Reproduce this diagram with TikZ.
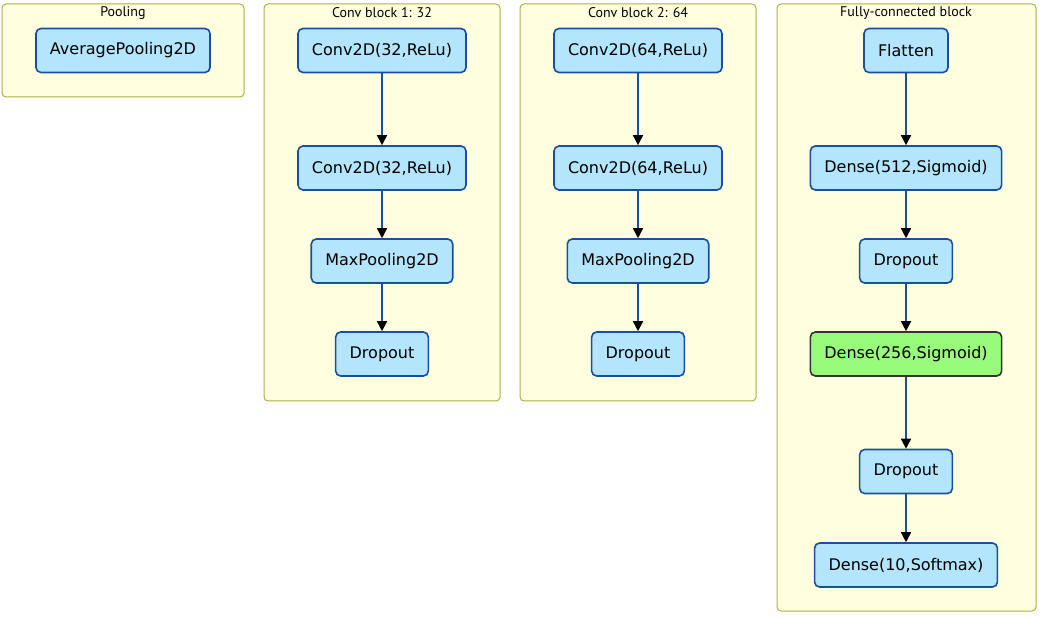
\documentclass[tikz,border=0pt]{standalone}
\usepackage{fontspec}
\setsansfont{DejaVu Sans}
\newfontfamily\titlefont{PT Sans}
\usetikzlibrary{arrows.meta}
\definecolor{layerblue}{RGB}{179,229,252}
\definecolor{layerline}{RGB}{28,78,158}
\definecolor{densegreen}{RGB}{152,251,124}
\definecolor{blockfill}{RGB}{255,255,224}
\definecolor{blockline}{RGB}{175,175,70}

\begin{document}
\begin{tikzpicture}[x=0.5pt,y=-0.5pt,block/.style={draw=blockline, fill=blockfill, rounded corners=2pt, line width=0.5pt},title/.style={font=\titlefont\fontsize{7}{8}\selectfont},layer/.style={draw=layerline, fill=layerblue, line width=0.8pt, rounded corners=2.5pt, minimum height=22pt, inner xsep=7pt, font=\sffamily\fontsize{8}{9.5}\selectfont},highlight/.style={layer, draw=black!80, fill=densegreen},flow/.style={draw=layerline, line width=0.8pt, -{Triangle[black, length=5pt, width=5pt]}}]
\useasboundingbox (0,0) rectangle (1042,619);
\draw[block] (2,4) rectangle (244,97);
\node[title] (tpool) at (123,13) {Pooling};
\node[layer] (pool) at (123,50.5) {AveragePooling2D};
\foreach \cx/\n/\k in {382/32/1,638/64/2} {\draw[block] (\cx-118,4) rectangle (\cx+118,401);\node[title] (tconv\k) at (\cx,13) {Conv block \k: \n};\node[layer] (conva\k) at (\cx,50.5) {Conv2D(\n,ReLu)};\node[layer] (convb\k) at (\cx,168) {Conv2D(\n,ReLu)};\node[layer] (maxp\k) at (\cx,261) {MaxPooling2D};\node[layer] (drop\k) at (\cx,354) {Dropout};\draw[flow] (conva\k) -- (convb\k);\draw[flow] (convb\k) -- (maxp\k);\draw[flow] (maxp\k) -- (drop\k);}
\draw[block] (777,4) rectangle (1036,611);
\node[title] (tfc) at (906,13) {Fully-connected block};
\node[layer] (flat) at (906,50.5) {Flatten};
\node[layer] (fca) at (906,168) {Dense(512,Sigmoid)};
\node[layer] (fcdropa) at (906,261) {Dropout};
\node[highlight] (fcb) at (906,354) {Dense(256,Sigmoid)};
\node[layer] (fcdropb) at (906,471.5) {Dropout};
\node[layer] (out) at (906,565) {Dense(10,Softmax)};
\draw[flow] (flat) -- (fca);
\draw[flow] (fca) -- (fcdropa);
\draw[flow] (fcdropa) -- (fcb);
\draw[flow] (fcb) -- (fcdropb);
\draw[flow] (fcdropb) -- (out);
\end{tikzpicture}
\end{document}
